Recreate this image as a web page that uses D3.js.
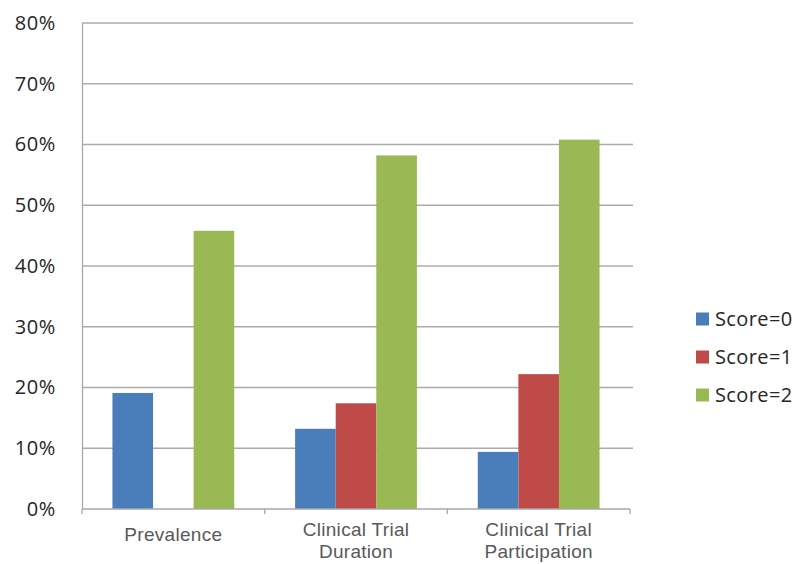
<!DOCTYPE html>
<html>
<head>
<meta charset="utf-8">
<script src="https://cdn.jsdelivr.net/npm/d3@7"></script>
<style>
  html, body { margin: 0; padding: 0; background: #fff; }
  svg { display: block; }
</style>
</head>
<body>
<svg id="chart" width="799" height="564"></svg>
<script>
// Categories (multi-line labels split on "\n")
const categories = ["Prevalence", "Clinical Trial\nDuration", "Clinical Trial\nParticipation"];
const seriesNames = ["Score=0", "Score=1", "Score=2"];
const seriesColors = ["#4A7EBB", "#BE4B48", "#98B954"];

// Share of items per score, one array per series (null = no bar)
const score0 = [0.191, 0.132, 0.094];
const score1 = [null, 0.174, 0.222];
const score2 = [0.458, 0.582, 0.608];
const seriesValues = [score0, score1, score2];

const yTicks = [0, 0.1, 0.2, 0.3, 0.4, 0.5, 0.6, 0.7, 0.8];

const svg = d3.select("#chart");
const margin = { left: 82, right: 169, top: 23, bottom: 55 };
const width = 799, height = 564;
const plotW = width - margin.left - margin.right;
const plotH = height - margin.top - margin.bottom;

const g = svg.append("g").attr("transform", `translate(${margin.left},${margin.top})`);

const y = d3.scaleLinear().domain([0, 0.8]).range([plotH, 0]);
const x0 = d3.scaleBand().domain(d3.range(categories.length)).range([0, plotW]).padding(0);
// Group uses 3 bars out of 4.5 bar widths (150% gap)
const groupFrac = 3 / 4.5;
const x1 = d3.scaleBand().domain(d3.range(seriesNames.length))
  .range([0, x0.bandwidth() * groupFrac]).padding(0);

// Horizontal gridlines
g.append("g")
  .selectAll("line")
  .data(yTicks.filter(t => t > 0))
  .join("line")
  .attr("x1", 0).attr("x2", plotW + 3)
  .attr("y1", d => y(d)).attr("y2", d => y(d))
  .attr("stroke", "#ababab").attr("stroke-width", 1.3);

// Y axis
const yAxis = d3.axisLeft(y).tickValues(yTicks).tickFormat(d3.format(".0%")).tickSize(0).tickPadding(26);
const yg = g.append("g").call(yAxis);
yg.select(".domain").attr("stroke", "#a8a8a8").attr("stroke-width", 1.3);
yg.selectAll("text")
  .attr("font-family", "'Open Sans', 'Noto Sans', sans-serif")
  .attr("font-size", 20).attr("letter-spacing", 0.6).attr("fill", "#262626");

// Bars
const groups = g.append("g").selectAll("g")
  .data(categories.map((c, i) => i))
  .join("g")
  .attr("transform", i => `translate(${x0(i) + x0.bandwidth() * (1 - groupFrac) / 2},0)`);

groups.selectAll("rect")
  .data(i => seriesValues.map((vals, s) => ({ s, v: vals[i] })).filter(d => d.v != null))
  .join("rect")
  .attr("x", d => x1(d.s))
  .attr("width", x1.bandwidth())
  .attr("y", d => y(d.v))
  .attr("height", d => y(0) - y(d.v))
  .attr("fill", d => seriesColors[d.s]);

// X axis (baseline with tick marks between categories)
const xAxisG = g.append("g").attr("transform", `translate(0,${plotH})`);
xAxisG.append("line").attr("x1", 0).attr("x2", plotW).attr("y1", 0).attr("y2", 0)
  .attr("stroke", "#a8a8a8").attr("stroke-width", 1.3);
xAxisG.selectAll("line.tick")
  .data(d3.range(categories.length + 1))
  .join("line").attr("class", "tick")
  .attr("x1", i => i * x0.step()).attr("x2", i => i * x0.step())
  .attr("y1", 0).attr("y2", 5)
  .attr("stroke", "#a8a8a8").attr("stroke-width", 1.3);

const xLabels = xAxisG.selectAll("text")
  .data(categories.map((c, i) => ({ c, i })))
  .join("text")
  .attr("text-anchor", "middle")
  .attr("font-family", "'Liberation Sans', Arial, sans-serif")
  .attr("font-size", 19).attr("letter-spacing", 0.3).attr("fill", "#595959")
  .attr("transform", d => `translate(${x0(d.i) + x0.bandwidth() / 2},0)`);
xLabels.each(function(d) {
  const lines = d.c.split("\n");
  const t = d3.select(this);
  const startY = lines.length === 1 ? 32 : 27;
  lines.forEach((ln, k) => {
    t.append("tspan").attr("x", 0).attr("y", startY + k * 22).text(ln);
  });
});

// Legend
const legend = svg.append("g").attr("transform", "translate(696,319)");
const items = legend.selectAll("g").data(seriesNames).join("g")
  .attr("transform", (d, i) => `translate(0,${i * 38})`);
items.append("rect").attr("x", 0).attr("y", -6.5).attr("width", 13).attr("height", 13)
  .attr("fill", (d, i) => seriesColors[i]);
items.append("text").attr("x", 19).attr("y", 7)
  .attr("font-family", "'Open Sans', 'Noto Sans', sans-serif")
  .attr("font-size", 20).attr("letter-spacing", 0.4).attr("fill", "#262626")
  .text(d => d);
</script>
</body>
</html>
